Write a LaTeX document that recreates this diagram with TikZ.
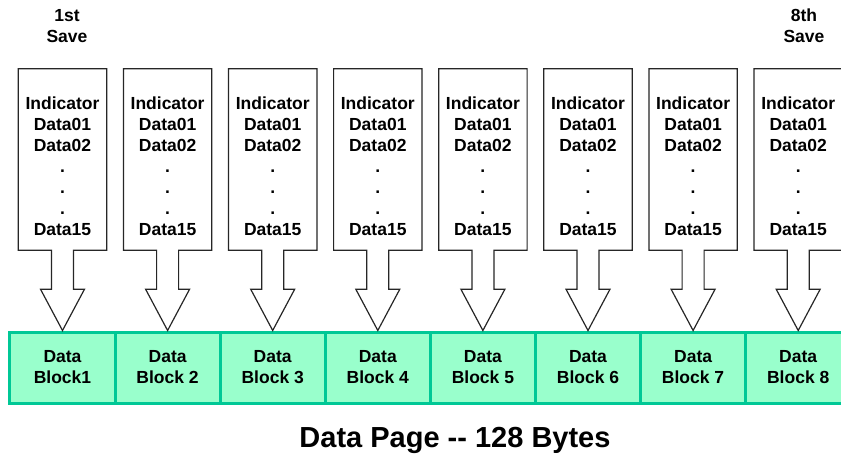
\documentclass[tikz,border=0pt]{standalone}
\usepackage{fontspec}
\setmainfont{Liberation Sans}
\usetikzlibrary{positioning}

\definecolor{blockfill}{HTML}{99FFCC}
\definecolor{blockline}{HTML}{00C896}

\tikzset{
  card/.style={rectangle, minimum width=88pt, minimum height=181pt, inner sep=0pt},
  cardtext/.style={align=center, inner sep=0pt, font=\fontsize{17.5}{21}\selectfont\bfseries},
  cardline/.style={draw=black!85, fill=white, line width=1.2pt, line join=miter},
  block/.style={draw=blockline, fill=blockfill, line width=3pt, minimum width=105.1pt,
    minimum height=71pt, inner sep=0pt, align=center, font=\fontsize{17.5}{21}\selectfont\bfseries},
  savetext/.style={align=center, inner sep=0pt, font=\fontsize{17.5}{21}\selectfont\bfseries},
  titletext/.style={inner sep=0pt, font=\fontsize{29}{34}\selectfont\bfseries}
}

\begin{document}
\begin{tikzpicture}[x=1pt,y=1pt]
  \useasboundingbox (0,0) rectangle (841,453);

  % the page, eight blocks side by side
  \foreach \i/\lbl in {1/Block1,2/Block 2,3/Block 3,4/Block 4,5/Block 5,6/Block 6,7/Block 7,8/Block 8}
    \node[block] (blk\i) at ({62.5+105.1*(\i-1)}, 85.5) {Data\\\lbl};

  % one save per block
  \foreach \i in {1,...,8} {
    \node[card] (card\i) at ({62.5+105.1*(\i-1)}, 293.5) {};
    \draw[cardline] (card\i.north west) -- (card\i.north east) -- (card\i.south east)
      -- ([xshift=11pt]card\i.south) -- ([xshift=11pt,yshift=-39pt]card\i.south)
      -- ([xshift=22pt,yshift=-39pt]card\i.south) -- (blk\i.north)
      -- ([xshift=-22pt,yshift=-39pt]card\i.south) -- ([xshift=-11pt,yshift=-39pt]card\i.south)
      -- ([xshift=-11pt]card\i.south) -- (card\i.south west) -- cycle;
    \node[cardtext, below=28pt of card\i.north] (txt\i) {Indicator\\Data01\\Data02\\.\\.\\.\\Data15};
  }

  \node[savetext, anchor=north] (first) at (67,444) {1st\\Save};
  \node[savetext, anchor=north] (last) at (804,444) {8th\\Save};

  \node[titletext, anchor=base] (page) at (455,6) {Data Page -\kern0pt- 128 Bytes};
\end{tikzpicture}
\end{document}
